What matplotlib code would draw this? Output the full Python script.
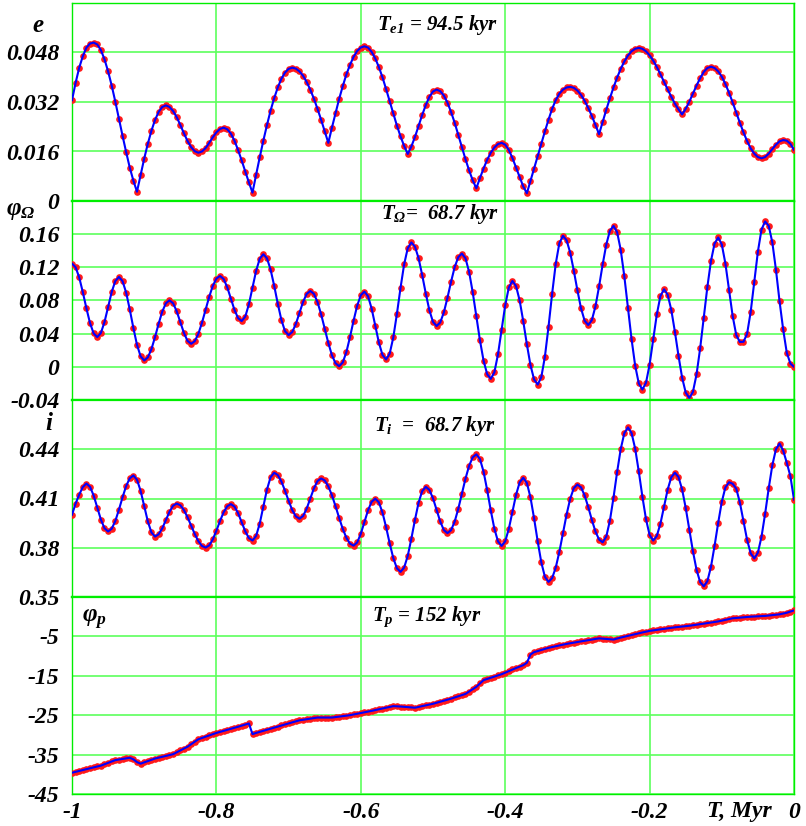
import numpy as np
import matplotlib
matplotlib.use('Agg')
import matplotlib.pyplot as plt

# time grid, Myr (one point every 5 kyr)
t = np.linspace(-1.0, 0.0, 201)

ecc = [0.0326, 0.0382, 0.0431, 0.0468, 0.0496, 0.0509, 0.0512, 0.0506, 0.0488, 0.0458,
       0.0419, 0.0373, 0.0321, 0.0266, 0.0211, 0.0158, 0.0108, 0.0066, 0.0030, 0.0084,
       0.0137, 0.0185, 0.0227, 0.0262, 0.0288, 0.0304, 0.0309, 0.0304, 0.0291, 0.0271,
       0.0246, 0.0219, 0.0194, 0.0174, 0.0161, 0.0156, 0.0160, 0.0171, 0.0188, 0.0206,
       0.0222, 0.0233, 0.0237, 0.0232, 0.0218, 0.0195, 0.0165, 0.0131, 0.0095, 0.0060,
       0.0027, 0.0085, 0.0141, 0.0195, 0.0245, 0.0292, 0.0332, 0.0367, 0.0395, 0.0415,
       0.0427, 0.0431, 0.0428, 0.0419, 0.0405, 0.0385, 0.0360, 0.0331, 0.0298, 0.0263,
       0.0226, 0.0188, 0.0237, 0.0284, 0.0330, 0.0371, 0.0409, 0.0440, 0.0466, 0.0485,
       0.0496, 0.0500, 0.0496, 0.0482, 0.0461, 0.0433, 0.0400, 0.0362, 0.0322, 0.0283,
       0.0244, 0.0209, 0.0178, 0.0152, 0.0176, 0.0207, 0.0242, 0.0278, 0.0310, 0.0337,
       0.0354, 0.0360, 0.0355, 0.0341, 0.0318, 0.0288, 0.0253, 0.0214, 0.0174, 0.0135,
       0.0099, 0.0067, 0.0041, 0.0074, 0.0105, 0.0133, 0.0156, 0.0173, 0.0184, 0.0188,
       0.0182, 0.0165, 0.0139, 0.0108, 0.0076, 0.0047, 0.0025, 0.0065, 0.0105, 0.0145,
       0.0185, 0.0225, 0.0263, 0.0298, 0.0326, 0.0347, 0.0360, 0.0367, 0.0369, 0.0366,
       0.0357, 0.0343, 0.0324, 0.0301, 0.0275, 0.0246, 0.0216, 0.0256, 0.0295, 0.0332,
       0.0367, 0.0399, 0.0427, 0.0451, 0.0470, 0.0484, 0.0492, 0.0495, 0.0492, 0.0484,
       0.0471, 0.0454, 0.0433, 0.0410, 0.0385, 0.0361, 0.0337, 0.0315, 0.0296, 0.0280,
       0.0298, 0.0321, 0.0347, 0.0373, 0.0397, 0.0417, 0.0430, 0.0434, 0.0430, 0.0419,
       0.0402, 0.0378, 0.0350, 0.0319, 0.0286, 0.0253, 0.0222, 0.0194, 0.0170, 0.0153,
       0.0142, 0.0138, 0.0142, 0.0153, 0.0168, 0.0182, 0.0193, 0.0197, 0.0195, 0.0185,
       0.0165]

phi_node = [0.1245, 0.1201, 0.1078, 0.0900, 0.0704, 0.0526, 0.0403, 0.0359, 0.0408, 0.0540,
            0.0722, 0.0903, 0.1035, 0.1084, 0.1034, 0.0895, 0.0692, 0.0469, 0.0266, 0.0127,
            0.0077, 0.0113, 0.0213, 0.0359, 0.0520, 0.0666, 0.0766, 0.0802, 0.0767, 0.0671,
            0.0540, 0.0409, 0.0313, 0.0278, 0.0309, 0.0398, 0.0531, 0.0687, 0.0844, 0.0976,
            0.1065, 0.1096, 0.1060, 0.0960, 0.0824, 0.0688, 0.0588, 0.0552, 0.0606, 0.0754,
            0.0955, 0.1157, 0.1304, 0.1358, 0.1310, 0.1175, 0.0979, 0.0762, 0.0566, 0.0431,
            0.0383, 0.0419, 0.0516, 0.0649, 0.0782, 0.0879, 0.0915, 0.0881, 0.0782, 0.0635,
            0.0462, 0.0288, 0.0141, 0.0043, 0.0008, 0.0053, 0.0177, 0.0358, 0.0557, 0.0738,
            0.0863, 0.0907, 0.0852, 0.0703, 0.0498, 0.0294, 0.0144, 0.0089, 0.0159, 0.0354,
            0.0638, 0.0951, 0.1235, 0.1430, 0.1500, 0.1450, 0.1311, 0.1108, 0.0884, 0.0682,
            0.0542, 0.0492, 0.0535, 0.0656, 0.0832, 0.1026, 0.1202, 0.1323, 0.1366, 0.1309,
            0.1145, 0.0900, 0.0611, 0.0321, 0.0076, -0.0088, -0.0145, -0.0066, 0.0150, 0.0446,
            0.0741, 0.0957, 0.1036, 0.0974, 0.0801, 0.0550, 0.0272, 0.0021, -0.0152, -0.0214,
            -0.0125, 0.0123, 0.0484, 0.0882, 0.1243, 0.1491, 0.1580, 0.1527, 0.1378, 0.1161,
            0.0923, 0.0706, 0.0557, 0.0504, 0.0563, 0.0729, 0.0969, 0.1235, 0.1475, 0.1641,
            0.1700, 0.1625, 0.1411, 0.1091, 0.0713, 0.0335, 0.0015, -0.0199, -0.0274, -0.0193,
            0.0028, 0.0331, 0.0633, 0.0854, 0.0935, 0.0870, 0.0689, 0.0425, 0.0135, -0.0129,
            -0.0310, -0.0375, -0.0302, -0.0092, 0.0222, 0.0593, 0.0963, 0.1277, 0.1487, 0.1560,
            0.1476, 0.1245, 0.0930, 0.0615, 0.0384, 0.0300, 0.0302, 0.0397, 0.0663, 0.1027,
            0.1390, 0.1656, 0.1753, 0.1700, 0.1500, 0.1170, 0.0790, 0.0451, 0.0170, 0.0040,
            0.0000]

incl = [0.4001, 0.4069, 0.4124, 0.4170, 0.4191, 0.4171, 0.4118, 0.4045, 0.3972, 0.3919,
        0.3899, 0.3916, 0.3963, 0.4032, 0.4107, 0.4176, 0.4223, 0.4240, 0.4215, 0.4147,
        0.4054, 0.3961, 0.3893, 0.3868, 0.3882, 0.3918, 0.3969, 0.4019, 0.4056, 0.4069,
        0.4059, 0.4030, 0.3986, 0.3935, 0.3884, 0.3840, 0.3811, 0.3801, 0.3814, 0.3851,
        0.3904, 0.3963, 0.4016, 0.4053, 0.4066, 0.4051, 0.4011, 0.3955, 0.3900, 0.3859,
        0.3844, 0.3872, 0.3947, 0.4051, 0.4154, 0.4229, 0.4257, 0.4243, 0.4204, 0.4148,
        0.4086, 0.4030, 0.3991, 0.3977, 0.3993, 0.4038, 0.4100, 0.4161, 0.4206, 0.4222,
        0.4210, 0.4174, 0.4120, 0.4053, 0.3982, 0.3915, 0.3861, 0.3825, 0.3813, 0.3832,
        0.3885, 0.3956, 0.4028, 0.4080, 0.4099, 0.4077, 0.4015, 0.3926, 0.3827, 0.3737,
        0.3675, 0.3653, 0.3679, 0.3750, 0.3855, 0.3970, 0.4074, 0.4145, 0.4171, 0.4152,
        0.4101, 0.4030, 0.3960, 0.3908, 0.3889, 0.3907, 0.3959, 0.4037, 0.4129, 0.4221,
        0.4299, 0.4351, 0.4369, 0.4341, 0.4264, 0.4152, 0.4028, 0.3916, 0.3839, 0.3811,
        0.3839, 0.3915, 0.4019, 0.4122, 0.4198, 0.4226, 0.4195, 0.4107, 0.3979, 0.3839,
        0.3711, 0.3623, 0.3592, 0.3615, 0.3679, 0.3775, 0.3889, 0.4002, 0.4098, 0.4163,
        0.4185, 0.4168, 0.4119, 0.4048, 0.3970, 0.3899, 0.3850, 0.3833, 0.3868, 0.3965,
        0.4105, 0.4261, 0.4401, 0.4498, 0.4533, 0.4499, 0.4404, 0.4265, 0.4112, 0.3974,
        0.3878, 0.3844, 0.3872, 0.3947, 0.4051, 0.4154, 0.4229, 0.4257, 0.4231, 0.4156,
        0.4043, 0.3911, 0.3779, 0.3666, 0.3591, 0.3565, 0.3596, 0.3684, 0.3812, 0.3952,
        0.4080, 0.4168, 0.4199, 0.4190, 0.4160, 0.4076, 0.3963, 0.3849, 0.3766, 0.3735,
        0.3770, 0.3867, 0.4007, 0.4163, 0.4303, 0.4400, 0.4435, 0.4392, 0.4318, 0.4236,
        0.4093]

phi_peri = [-39.6, -39.37, -39.13, -38.9, -38.68, -38.46, -38.24, -38.02, -37.8, -37.45,
            -37.1, -36.75, -36.4, -36.25, -36.1, -35.95, -35.8, -36.2, -36.9, -37.3,
            -36.98, -36.65, -36.33, -36.0, -35.78, -35.56, -35.34, -35.12, -34.9, -34.43,
            -33.95, -33.48, -33.0, -32.37, -31.73, -31.1, -30.78, -30.46, -30.14, -29.82,
            -29.5, -29.24, -28.98, -28.72, -28.46, -28.2, -27.93, -27.65, -27.38, -27.1,
            -29.8, -29.5, -29.23, -28.97, -28.7, -28.43, -28.15, -27.88, -27.6, -27.34,
            -27.08, -26.82, -26.56, -26.3, -26.16, -26.02, -25.88, -25.74, -25.6, -25.6,
            -25.6, -25.6, -25.6, -25.48, -25.36, -25.24, -25.12, -25.0, -24.82, -24.64,
            -24.46, -24.28, -24.1, -23.9, -23.7, -23.5, -23.3, -23.1, -22.9, -22.7,
            -22.75, -22.8, -22.88, -22.95, -23.03, -23.1, -22.9, -22.7, -22.5, -22.3,
            -22.1, -21.84, -21.58, -21.32, -21.06, -20.8, -20.5, -20.2, -19.9, -19.6,
            -19.0, -18.4, -17.8, -16.95, -16.1, -15.8, -15.5, -15.2, -14.9, -14.6,
            -14.2, -13.8, -13.4, -13.03, -12.67, -12.3, -11.7, -9.6, -9.0, -8.73,
            -8.45, -8.18, -7.9, -7.7, -7.5, -7.3, -7.1, -6.9, -6.74, -6.58,
            -6.42, -6.26, -6.1, -5.95, -5.8, -5.65, -5.5, -5.58, -5.65, -5.73,
            -5.8, -5.55, -5.3, -5.08, -4.85, -4.63, -4.4, -4.2, -4.0, -3.8,
            -3.6, -3.47, -3.34, -3.21, -3.09, -2.96, -2.83, -2.7, -2.6, -2.5,
            -2.4, -2.3, -2.17, -2.03, -1.9, -1.76, -1.62, -1.48, -1.34, -1.2,
            -1.0, -0.8, -0.6, -0.4, -0.32, -0.24, -0.16, -0.08, 0.0, 0.05,
            0.1, 0.15, 0.2, 0.3, 0.4, 0.5, 0.6, 0.8, 1.0, 1.3,
            1.6]

x_ticks = [-1, -0.8, -0.6, -0.4, -0.2, 0]
x_labels = ['-1', '-0.8', '-0.6', '-0.4', '-0.2', '0']

e_ticks = [0, 0.016, 0.032, 0.048, 0.064]
e_labels = ['0', '0.016', '0.032', '0.048', '']
node_ticks = [-0.04, 0, 0.04, 0.08, 0.12, 0.16, 0.2]
node_labels = ['-0.04', '0', '0.04', '0.08', '0.12', '0.16', '']
i_ticks = [0.35, 0.38, 0.41, 0.44, 0.47]
i_labels = ['0.35', '0.38', '0.41', '0.44', '']
p_ticks = [-45, -35, -25, -15, -5, 5]
p_labels = ['-45', '-35', '-25', '-15', '-5', '']

titles = [r'$T_{e1}$ = 94.5 kyr', r'$T_{\Omega}$=  68.7 kyr',
          r'$T_i$  =  68.7 kyr', r'$T_p$ = 152 kyr']

plt.rcParams['font.family'] = 'Liberation Serif'
plt.rcParams['font.weight'] = 'bold'
plt.rcParams['font.style'] = 'italic'
plt.rcParams['mathtext.fontset'] = 'custom'
plt.rcParams['mathtext.rm'] = 'Liberation Serif:italic:bold'
plt.rcParams['mathtext.it'] = 'Liberation Serif:italic:bold'
plt.rcParams['mathtext.bf'] = 'Liberation Serif:italic:bold'

W, H = 806.0, 826.0
GRID = '#5cff5c'
EDGE = '#00ee00'
TICK_FS = 17

fig = plt.figure(figsize=(8.06, 8.26), dpi=100)

panels = [
    (ecc, (0, 0.064), e_ticks, e_labels, 3, 201),
    (phi_node, (-0.04, 0.2), node_ticks, node_labels, 201, 400),
    (incl, (0.35, 0.47), i_ticks, i_labels, 400, 597),
    (phi_peri, (-45, 5), p_ticks, p_labels, 597, 794),
]

for n, (vals, ylim, yt, yl, top, bot) in enumerate(panels):
    ax = fig.add_axes([72 / W, 1 - bot / H, 722 / W, (bot - top) / H])
    ax.plot(t, vals, 'o', color='#ff1a1a', ms=4.8, mec='none', zorder=3)
    ax.plot(t, vals, '-', color='#0000ff', lw=1.5, zorder=4)
    ax.set_xlim(-1, 0)
    ax.set_ylim(*ylim)
    ax.set_yticks(yt)
    ax.set_yticklabels(yl, fontsize=TICK_FS)
    ax.set_xticks(x_ticks)
    if n == 3:
        ax.set_xticklabels(x_labels, fontsize=TICK_FS)
    else:
        ax.set_xticklabels([])
    ax.grid(True, color=GRID, lw=1.2, zorder=1)
    ax.tick_params(axis='y', length=0, pad=9)
    ax.tick_params(axis='x', length=0, pad=6)
    for side in ['left', 'right', 'top', 'bottom']:
        ax.spines[side].set_color(EDGE)
        ax.spines[side].set_linewidth(1.0)
    if n > 0:
        ax.spines['top'].set_linewidth(1.6)
    if n < 3:
        ax.spines['bottom'].set_linewidth(1.6)


def fx(x):
    return x / W


def fy(y):
    return 1 - y / H


# variable names on the left
fig.text(fx(38), fy(26), 'e', fontsize=18, ha='center', va='center')
fig.text(fx(6), fy(210), r'$φ_{\Omega}$', fontsize=18, ha='left', va='center')
fig.text(fx(49), fy(424), 'i', fontsize=18, ha='center', va='center')
fig.text(fx(82), fy(620), r'$φ_p$', fontsize=18, ha='left', va='center')

# periods
title_pos = [(377, 25), (381, 214), (374, 426), (372, 617)]
for txt, (px, py) in zip(titles, title_pos):
    fig.text(fx(px), fy(py), txt, fontsize=15, ha='left', va='center')

fig.text(fx(739), fy(812), 'T, Myr', fontsize=TICK_FS, ha='center', va='center')

fig.savefig('out.png', dpi=100)
